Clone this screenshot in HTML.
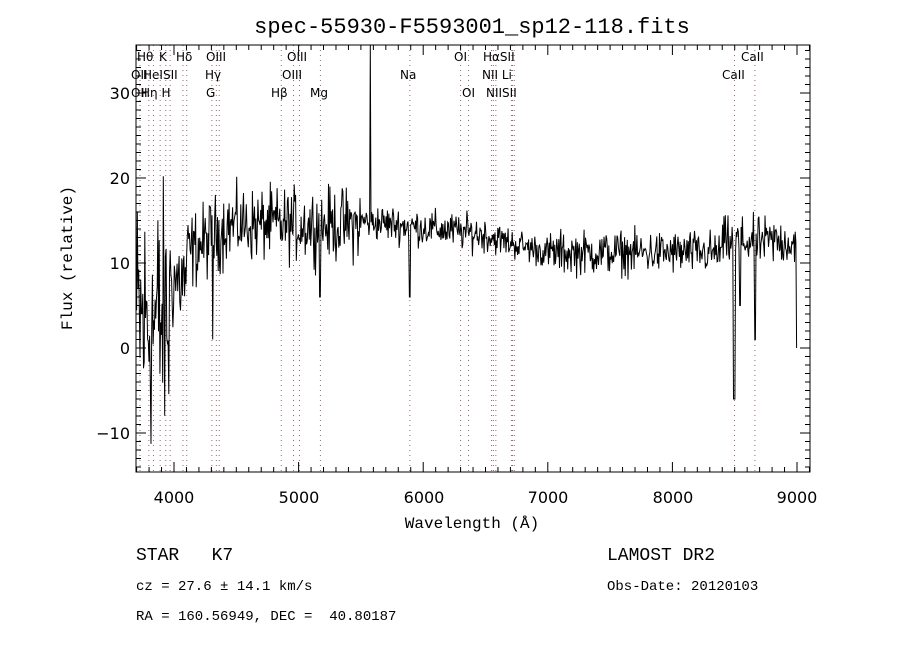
<!DOCTYPE html>
<html><head><meta charset="utf-8"><style>
html,body{margin:0;padding:0;background:#fff;}
svg{display:block;}
text{font-family:"DejaVu Sans","Liberation Sans",sans-serif;fill:#000;white-space:pre;}
.s{font-family:"Liberation Serif","DejaVu Serif",serif;font-size:12px;}
.m{font-family:"Liberation Mono","DejaVu Sans Mono",monospace;}
</style></head><body>
<svg id="c" width="900" height="650" viewBox="0 0 900 650" xmlns="http://www.w3.org/2000/svg" xml:space="preserve">
<rect width="900" height="650" fill="#fff"/>
<text x="472" y="33" text-anchor="middle" font-size="22" class="m">spec-55930-F5593001_sp12-118.fits</text>
<g id="lines"></g>
<g id="spec"></g>
<g id="axes"></g>
<g class="s">
<text x="137" y="61">Hθ</text><text x="159" y="61">K</text><text x="176" y="61">Hδ</text><text x="206" y="61">OIII</text>
<text x="287" y="61">OIII</text><text x="454" y="61">OI</text><text x="483" y="61">HαSII</text><text x="741" y="61">CaII</text>
<text x="131" y="79">OII</text><text x="143" y="79">HeISII</text><text x="205" y="79">Hγ</text><text x="282" y="79">OIII</text>
<text x="400" y="79">Na</text><text x="482" y="79">NII Li</text><text x="722" y="79">CaII</text>
<text x="131" y="97">OII</text><text x="141" y="97">Hη H</text><text x="206" y="97">G</text><text x="271" y="97">Hβ</text>
<text x="310" y="97">Mg</text><text x="462" y="97">OI</text><text x="486" y="97">NIISII</text>
</g>
<g font-size="16">
<text x="130" y="99" text-anchor="end">30</text><text x="130" y="184" text-anchor="end">20</text>
<text x="130" y="269" text-anchor="end">10</text><text x="130" y="354" text-anchor="end">0</text>
<text x="130" y="439" text-anchor="end">−10</text>
<text x="174" y="503" text-anchor="middle">4000</text><text x="299" y="503" text-anchor="middle">5000</text>
<text x="424" y="503" text-anchor="middle">6000</text><text x="548" y="503" text-anchor="middle">7000</text>
<text x="673" y="503" text-anchor="middle">8000</text><text x="797" y="503" text-anchor="middle">9000</text>
</g>
<text x="472" y="528" text-anchor="middle" font-size="16" class="m">Wavelength (Å)</text>
<text transform="translate(72,258) rotate(-90)" text-anchor="middle" font-size="16" class="m">Flux (relative)</text>
<text x="136" y="560" font-size="18" class="m">STAR   K7</text>
<text x="607" y="560" font-size="18" class="m">LAMOST DR2</text>
<text x="136" y="590" font-size="14" class="m">cz = 27.6 ± 14.1 km/s</text>
<text x="607" y="590" font-size="14" class="m">Obs-Date: 20120103</text>
<text x="136" y="620" font-size="14" class="m">RA = 160.56949, DEC =  40.80187</text>
</svg>
<script>
var L=136,R=810,T=45,B=472;
function X(w){return 174+(w-4000)*0.1246;}
function Y(f){return 348-f*8.5;}
var ns="http://www.w3.org/2000/svg";
function el(p,tag,a){var e=document.createElementNS(ns,tag);for(var k in a)e.setAttribute(k,a[k]);p.appendChild(e);return e;}
var lg=document.getElementById('lines');
[3727,3798,3835,3889,3934,3969,4072,4102,4304,4340,4363,4861,4959,5007,5175,5893,6300,6364,6548,6563,6583,6708,6717,6731,8498,8662].forEach(function(w){
 el(lg,'line',{x1:X(w),x2:X(w),y1:T,y2:B,stroke:'#9a6a6a','stroke-width':1,'stroke-dasharray':'1,4'});});
var s=12345;function rnd(){s=(s*1103515245+12345)%2147483648;return s/2147483648;}
function g(){return (rnd()+rnd()+rnd()-1.5)*1.4;}
var pts=[];
for(var w=3700;w<=9000;w+=5.5){
 var b,n;
 if(w<3960){b=3;n=11;}
 else if(w<4100){b=8;n=4.5;}
 else if(w<4400){b=11+(w-4100)/100;n=3.2;}
 else if(w<5500){b=14.5;n=3.0;}
 else if(w<6500){b=15-(w-5500)/600;n=1.5;}
 else if(w<7000){b=13.2-(w-6500)/250;n=1.3;}
 else if(w<8400){b=11.2;n=1.8;}
 else {b=12.5;n=2.0;}
 var f=b+g()*n;
 if(Math.abs(w-8498)<8)f=-6;
 if(Math.abs(w-8542)<6)f=5;
 if(Math.abs(w-8662)<6)f=1;
 if(Math.abs(w-5577)<4)f=60;
 if(Math.abs(w-5893)<5)f=6;
 if(Math.abs(w-4310)<5)f=1;
 if(Math.abs(w-5170)<5)f=6;
 if(w>8995)f=0;
 f=Math.max(-15.5,Math.min(40,f));
 pts.push(X(w).toFixed(1)+','+Math.max(T,Y(f)).toFixed(1));
}
var sg=document.getElementById('spec');
el(sg,'polyline',{points:pts.join(' '),fill:'none',stroke:'#000','stroke-width':1});
var ax=document.getElementById('axes');
el(ax,'rect',{x:L,y:T,width:R-L,height:B-T,fill:'none',stroke:'#000','stroke-width':1});
for(var w=3700;w<=9100;w+=100){var x=X(w);if(x<L||x>R)continue;var len=(w%1000==0)?10:5;
 el(ax,'line',{x1:x,x2:x,y1:B,y2:B-len,stroke:'#000'});el(ax,'line',{x1:x,x2:x,y1:T,y2:T+len,stroke:'#000'});}
for(var f=-14;f<=35;f++){var y=Y(f);if(y<T||y>B)continue;var len=(f%10==0)?10:5;
 el(ax,'line',{x1:L,x2:L+len,y1:y,y2:y,stroke:'#000'});el(ax,'line',{x1:R,x2:R-len,y1:y,y2:y,stroke:'#000'});}
</script>
</body></html>
